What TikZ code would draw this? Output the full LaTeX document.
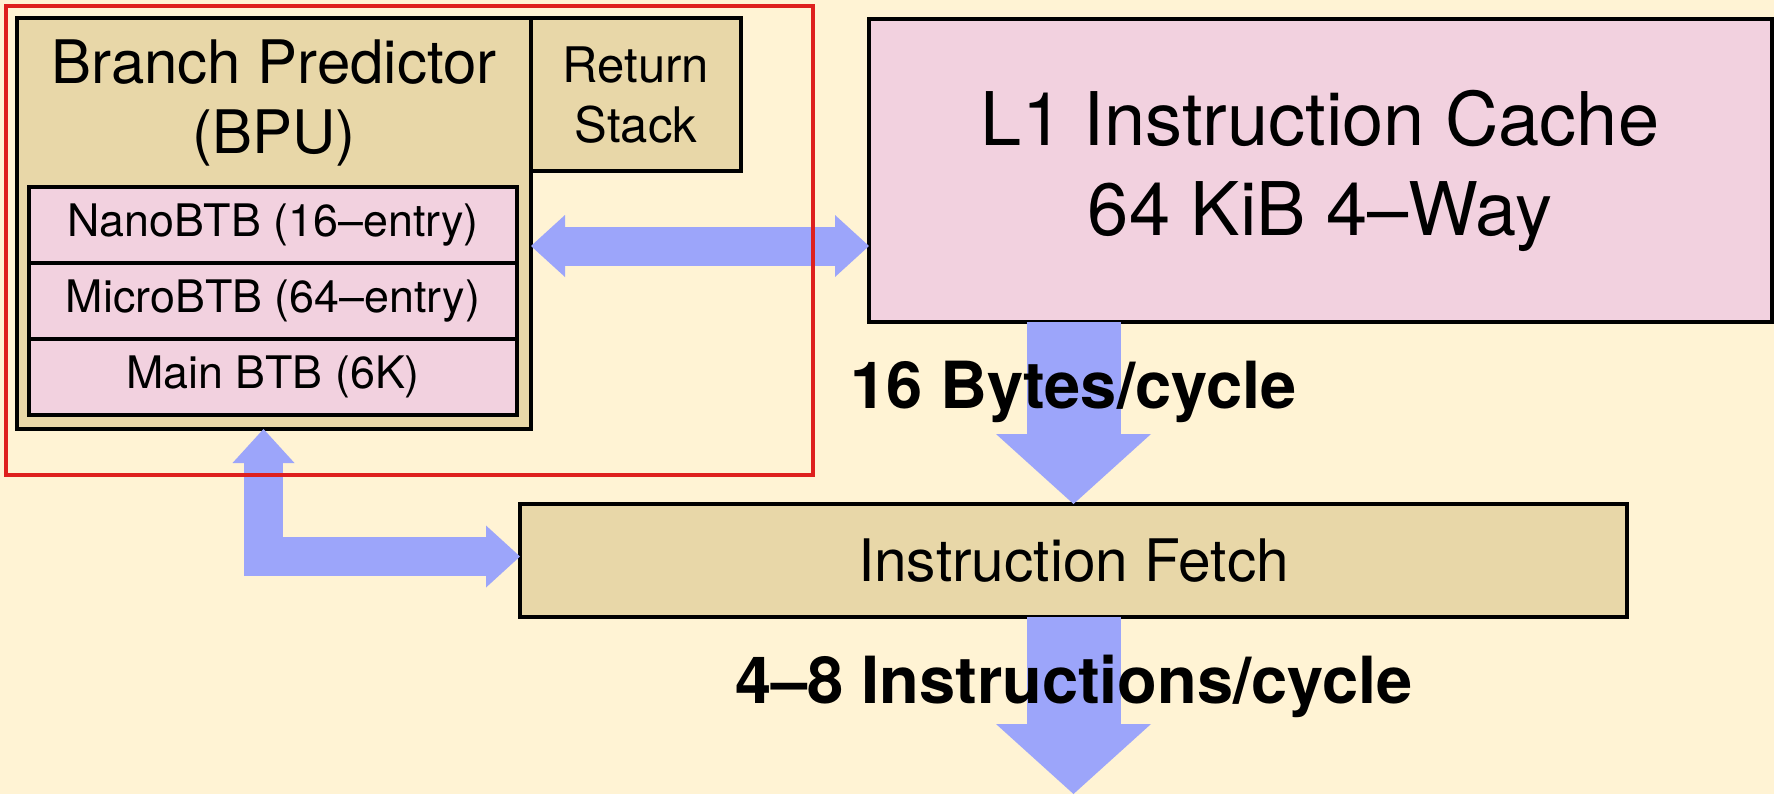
\documentclass[tikz,border=0pt]{standalone}
\usepackage{fontspec}
\setmainfont{TeX Gyre Heros}
\usetikzlibrary{arrows.meta}
\definecolor{bgc}{RGB}{255,243,212}
\definecolor{tanc}{RGB}{232,215,168}
\definecolor{pinkc}{RGB}{242,209,223}
\definecolor{bluec}{RGB}{156,165,250}
\definecolor{redc}{RGB}{222,32,30}
\tikzset{
  box/.style={draw=black, line width=2pt, inner sep=0pt, outer sep=0pt, rectangle},
  tanbox/.style={box, fill=tanc},
  pinkbox/.style={box, fill=pinkc},
  txt/.style={inner sep=0pt, outer sep=0pt, anchor=base},
  thinarrow/.style={draw=bluec, line width=19.5pt, line join=miter,
    {Triangle[length=17pt,width=31pt,line width=0pt]}-{Triangle[length=17pt,width=31pt,line width=0pt]}},
  bigarrow/.style={draw=bluec, line width=47pt,
    -{Triangle[length=35pt,width=77.5pt,line width=0pt]}},
  f/.style={font=\fontsize{#1}{#1}\selectfont},
  bold/.style={font=\fontsize{#1}{#1}\selectfont\bfseries}
}
\begin{document}
\begin{tikzpicture}[x=0.5pt,y=-0.5pt]
\useasboundingbox[fill=bgc] (0,0) rectangle (1774,794);
% boxes
\node[tanbox, minimum width=257pt, minimum height=205.5pt] (bpu) at (274,223.5) {};
\node[tanbox, minimum width=105pt, minimum height=76.5pt] (ret) at (636,94.5) {};
\node[pinkbox, minimum width=244pt, minimum height=38pt, f=22.4pt] (nano) at (273,225) {NanoBTB (16--entry)};
\node[pinkbox, minimum width=244pt, minimum height=38pt, f=22.4pt] (micro) at (273,301) {MicroBTB (64--entry)};
\node[pinkbox, minimum width=244pt, minimum height=38pt, f=22.4pt] (mainbtb) at (273,377) {Main BTB (6K)};
\node[pinkbox, minimum width=451.5pt, minimum height=151.5pt] (l1) at (1320.5,170.5) {};
\node[tanbox, minimum width=553.5pt, minimum height=56.5pt, f=29.3pt] (if) at (1073.5,560.5) {Instruction Fetch};
% texts
\node[txt, f=30pt] (bp1) at (274,83) {Branch Predictor};
\node[txt, f=30pt] (bp2) at (274,153) {(BPU)};
\node[txt, f=24.5pt] (rs1) at (636,82) {Return};
\node[txt, f=24.5pt] (rs2) at (636,142) {Stack};
\node[txt, f=37pt] (l1a) at (1320,145) {L1 Instruction Cache};
\node[txt, f=37pt] (l1b) at (1320,235) {64 KiB 4--Way};
% arrows
\coordinate (hy) at (0,246);
\draw[thinarrow] (bpu.east |- hy) -- (l1.west |- hy);
\coordinate (lc) at (263.5,556.5);
\draw[thinarrow] (bpu.south -| lc) -- (lc) -- (if.west |- lc);
\draw[bigarrow] (if.north |- l1.south) -- (if.north);
\coordinate (bot) at (0,794);
\draw[bigarrow] (if.south) -- (if.south |- bot);
% labels
\node[txt, anchor=base west, bold=32.5pt] (lab1) at (850,408) {16 Bytes/cycle};
\node[txt, bold=32.5pt] (lab2) at (1074,703) {4--8 Instructions/cycle};
% red frame
\node[draw=redc, line width=2pt, inner sep=0pt, minimum width=403.5pt, minimum height=234.5pt] (frame) at (409.5,240.5) {};
\end{tikzpicture}
\end{document}
